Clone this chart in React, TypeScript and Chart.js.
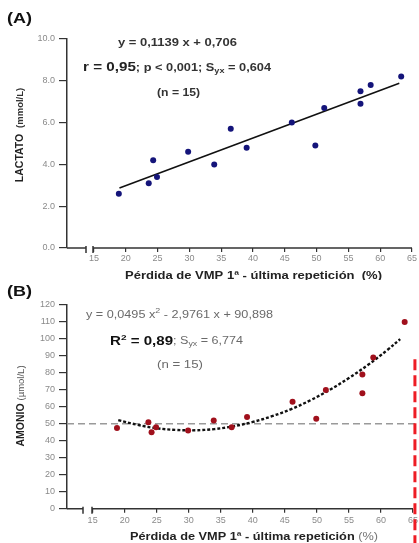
import { useEffect, useRef } from 'react';
import { Chart, registerables } from 'chart.js';
Chart.register(...registerables);

// ---- data ----
const LAC_LOSS = [18.9, 23.6, 24.3, 24.9, 29.8, 33.9, 36.5, 39.0, 46.1, 49.8, 51.2, 56.9, 56.9, 58.5, 63.3];
const LAC_VALUES = [2.6, 3.1, 4.2, 3.4, 4.6, 4.0, 5.7, 4.8, 6.0, 4.9, 6.7, 6.9, 7.5, 7.8, 8.2];
const LAC_FIT_X = [19, 63];
const LAC_FIT_Y = [2.87, 7.88];

const AMO_LOSS = [18.8, 23.7, 24.2, 24.9, 29.9, 33.9, 36.7, 39.1, 46.2, 49.9, 51.4, 57.1, 57.1, 58.8, 63.7];
const AMO_VALUES = [47.5, 51, 45, 48, 46, 52, 48, 54, 63, 53, 70, 68, 79, 89, 110];
const AMO_FIT_X = [19, 22, 25, 28, 31, 34, 37, 40, 43, 46, 49, 52, 55, 58, 61, 63];
const AMO_FIT_Y = [52.2, 49.4, 47.4, 46.4, 46.2, 46.9, 48.6, 51.1, 54.5, 58.7, 63.9, 70.0, 77.0, 84.8, 93.5, 99.9];
const AMO_REF_Y = 50;
const AMO_CUTOFF_X = 65.3;
const AMO_CUTOFF_TOP = 88;

const X_TICKS = [15, 20, 25, 30, 35, 40, 45, 50, 55, 60, 65];
const LAC_TICKS = [0, 2, 4, 6, 8, 10];
const AMO_TICKS = [0, 10, 20, 30, 40, 50, 60, 70, 80, 90, 100, 110, 120];

const F = '"Liberation Sans", Arial, sans-serif';
const W = 419;

type Run = { t: string; font: string; color: string; dy?: number };

function drawRuns(
  ctx: CanvasRenderingContext2D,
  x: number,
  y: number,
  runs: Run[],
  align: 'left' | 'center' = 'left',
  targetW?: number
) {
  let total = 0;
  for (const r of runs) {
    ctx.font = r.font;
    total += ctx.measureText(r.t).width;
  }
  const sx = targetW ? targetW / total : 1;
  const start = align === 'center' ? x - (total * sx) / 2 : x;
  ctx.save();
  ctx.translate(start, y);
  ctx.scale(sx, 1);
  ctx.textBaseline = 'middle';
  ctx.textAlign = 'left';
  let cx = 0;
  for (const r of runs) {
    ctx.font = r.font;
    ctx.fillStyle = r.color;
    ctx.fillText(r.t, cx, r.dy || 0);
    cx += ctx.measureText(r.t).width;
  }
  ctx.restore();
}

function drawRotated(ctx: CanvasRenderingContext2D, x: number, y: number, runs: Run[]) {
  ctx.save();
  ctx.translate(x, y);
  ctx.rotate(-Math.PI / 2);
  drawRuns(ctx, 0, 0, runs, 'center');
  ctx.restore();
}

function brokenXAxis(chart: any, gapA: number, gapB: number) {
  const ctx = chart.ctx as CanvasRenderingContext2D;
  const { left, right, bottom } = chart.chartArea;
  ctx.save();
  ctx.strokeStyle = '#333';
  ctx.lineWidth = 1.5;
  ctx.beginPath();
  ctx.moveTo(left, bottom);
  ctx.lineTo(gapA, bottom);
  ctx.moveTo(gapA, bottom - 2);
  ctx.lineTo(gapA, bottom + 5);
  ctx.moveTo(gapB, bottom - 2);
  ctx.lineTo(gapB, bottom + 5);
  ctx.moveTo(gapB, bottom);
  ctx.lineTo(right, bottom);
  ctx.stroke();
  ctx.restore();
}

type PanelProps = {
  height: number;
  top: number;
  build: (canvas: HTMLCanvasElement) => Chart;
};

function Panel({ height, top, build }: PanelProps) {
  const ref = useRef<HTMLCanvasElement>(null);
  useEffect(() => {
    const c = build(ref.current!);
    return () => c.destroy();
  }, []);
  return (
    <canvas
      ref={ref}
      width={W}
      height={height}
      style={{ position: 'absolute', left: 0, top, width: W, height, display: 'block' }}
    />
  );
}

const tickFont = { family: F, size: 9 };

function buildA(canvas: HTMLCanvasElement) {
  const H = 280;
  const plugin = {
    id: 'annA',
    afterDraw(chart: any) {
      const ctx = chart.ctx as CanvasRenderingContext2D;
      brokenXAxis(chart, 86, 93);
      drawRuns(ctx, 7, 19, [{ t: '(A)', font: `bold 14px ${F}`, color: '#111' }], 'left', 25);
      drawRuns(ctx, 118, 43, [{ t: 'y = 0,1139 x + 0,706', font: `bold 10.5px ${F}`, color: '#333' }], 'left', 119);
      drawRuns(ctx, 83, 68, [
        { t: 'r = 0,95', font: `bold 12.5px ${F}`, color: '#222' },
        { t: '; p < 0,001; S', font: `bold 10.5px ${F}`, color: '#333' },
        { t: 'yx', font: `bold 7.5px ${F}`, color: '#333', dy: 3 },
        { t: ' = 0,604', font: `bold 10.5px ${F}`, color: '#333' },
      ], 'left', 188);
      drawRuns(ctx, 157, 93, [{ t: '(n = 15)', font: `bold 10px ${F}`, color: '#333' }], 'left', 43);
      drawRotated(ctx, 20, 135, [
        { t: 'LACTATO  ', font: `bold 10.5px ${F}`, color: '#222' },
        { t: '(mmol/L)', font: `bold 9.5px ${F}`, color: '#333' },
      ]);
      drawRuns(ctx, 253.5, 276.5, [
        { t: 'Pérdida de VMP 1ª - última repetición  (%)', font: `bold 10.5px ${F}`, color: '#222' },
      ], 'center', 257);
    },
  };
  return new Chart(canvas, {
    type: 'scatter',
    data: {
      datasets: [
        {
          data: LAC_LOSS.map((x, i) => ({ x, y: LAC_VALUES[i] })),
          pointRadius: 3,
          pointBackgroundColor: '#14147a',
          pointBorderWidth: 0,
          showLine: false,
        },
        {
          data: LAC_FIT_X.map((x, i) => ({ x, y: LAC_FIT_Y[i] })),
          showLine: true,
          pointRadius: 0,
          borderColor: '#111',
          borderWidth: 1.6,
        },
      ],
    },
    options: {
      animation: false,
      responsive: false,
      layout: { padding: { top: 39, right: 7, left: 0, bottom: 0 } },
      plugins: { legend: { display: false }, tooltip: { enabled: false } },
      scales: {
        x: {
          type: 'linear',
          min: 10.75,
          max: 65,
          afterBuildTicks: (s: any) => { s.ticks = X_TICKS.map((v) => ({ value: v })); },
          afterFit: (s: any) => { s.height = H - 248; s.paddingLeft = 0; s.paddingRight = 0; },
          grid: { display: true, drawOnChartArea: false, drawTicks: true, tickLength: 4, color: '#333', lineWidth: 1.2 },
          border: { display: false },
          ticks: { color: '#8a8a8a', font: tickFont, padding: 1, maxRotation: 0 },
        },
        y: {
          type: 'linear',
          min: 0,
          max: 10,
          afterBuildTicks: (s: any) => { s.ticks = LAC_TICKS.map((v) => ({ value: v })); },
          afterFit: (s: any) => { s.width = 67; },
          grid: { display: true, drawOnChartArea: false, drawTicks: true, tickLength: 8, color: '#333', lineWidth: 1.2 },
          border: { display: true, color: '#333', width: 1.5 },
          ticks: { color: '#8a8a8a', font: tickFont, padding: 4, callback: (v: any) => Number(v).toFixed(1) },
        },
      },
    } as any,
    plugins: [plugin],
  });
}

function buildB(canvas: HTMLCanvasElement) {
  const H = 263;
  const plugin = {
    id: 'annB',
    beforeDatasetsDraw(chart: any) {
      const ctx = chart.ctx as CanvasRenderingContext2D;
      const y = chart.scales.y.getPixelForValue(AMO_REF_Y);
      ctx.save();
      ctx.strokeStyle = '#9a9a9a';
      ctx.lineWidth = 1.5;
      ctx.setLineDash([7, 4]);
      ctx.beginPath();
      ctx.moveTo(chart.chartArea.left, y);
      ctx.lineTo(W, y);
      ctx.stroke();
      ctx.restore();
    },
    afterDraw(chart: any) {
      const ctx = chart.ctx as CanvasRenderingContext2D;
      brokenXAxis(chart, 83, 92);
      const rx = chart.scales.x.getPixelForValue(AMO_CUTOFF_X);
      const ry = chart.scales.y.getPixelForValue(AMO_CUTOFF_TOP);
      ctx.save();
      ctx.strokeStyle = '#ee1c24';
      ctx.lineWidth = 3;
      ctx.setLineDash([11, 5]);
      ctx.beginPath();
      ctx.moveTo(rx, ry);
      ctx.lineTo(rx, H);
      ctx.stroke();
      ctx.restore();

      drawRuns(ctx, 7, 12, [{ t: '(B)', font: `bold 14px ${F}`, color: '#111' }], 'left', 25);
      drawRuns(ctx, 86, 35, [
        { t: 'y = 0,0495 x', font: `10px ${F}`, color: '#6a6a6a' },
        { t: '2', font: `7px ${F}`, color: '#6a6a6a', dy: -4 },
        { t: ' - 2,9761 x + 90,898', font: `10px ${F}`, color: '#6a6a6a' },
      ], 'left', 187);
      drawRuns(ctx, 110, 61.5, [
        { t: 'R', font: `bold 12px ${F}`, color: '#111' },
        { t: '2', font: `bold 8px ${F}`, color: '#111', dy: -4 },
        { t: ' = 0,89', font: `bold 12px ${F}`, color: '#111' },
        { t: '; S', font: `10px ${F}`, color: '#6a6a6a' },
        { t: 'yx', font: `7px ${F}`, color: '#6a6a6a', dy: 3 },
        { t: ' = 6,774', font: `10px ${F}`, color: '#6a6a6a' },
      ], 'left', 133);
      drawRuns(ctx, 157, 85, [{ t: '(n = 15)', font: `10px ${F}`, color: '#6a6a6a' }], 'left', 46);
      drawRotated(ctx, 21, 126, [
        { t: 'AMONIO ', font: `bold 10.5px ${F}`, color: '#222' },
        { t: '(µmol/L)', font: `9.5px ${F}`, color: '#555' },
      ]);
      drawRuns(ctx, 254, 257.5, [
        { t: 'Pérdida de VMP 1ª - última repetición ', font: `bold 10.5px ${F}`, color: '#222' },
        { t: '(%)', font: `10.5px ${F}`, color: '#777' },
      ], 'center', 248);
    },
  };
  return new Chart(canvas, {
    type: 'scatter',
    data: {
      datasets: [
        {
          data: AMO_LOSS.map((x, i) => ({ x, y: AMO_VALUES[i] })),
          pointRadius: 3,
          pointBackgroundColor: '#a0101c',
          pointBorderWidth: 0,
          showLine: false,
        },
        {
          data: AMO_FIT_X.map((x, i) => ({ x, y: AMO_FIT_Y[i] })),
          showLine: true,
          pointRadius: 0,
          borderColor: '#111',
          borderWidth: 2.4,
          borderDash: [3, 2],
          tension: 0.4,
        },
      ],
    },
    options: {
      animation: false,
      responsive: false,
      layout: { padding: { top: 25, right: 6, left: 0, bottom: 0 } },
      plugins: { legend: { display: false }, tooltip: { enabled: false } },
      scales: {
        x: {
          type: 'linear',
          min: 11.0,
          max: 65,
          afterBuildTicks: (s: any) => { s.ticks = X_TICKS.map((v) => ({ value: v })); },
          afterFit: (s: any) => { s.height = H - 228.7; s.paddingLeft = 0; s.paddingRight = 0; },
          grid: { display: true, drawOnChartArea: false, drawTicks: true, tickLength: 4, color: '#333', lineWidth: 1.2 },
          border: { display: false },
          ticks: { color: '#8a8a8a', font: tickFont, padding: 2, maxRotation: 0 },
        },
        y: {
          type: 'linear',
          min: 0,
          max: 120,
          afterBuildTicks: (s: any) => { s.ticks = AMO_TICKS.map((v) => ({ value: v })); },
          afterFit: (s: any) => { s.width = 67; },
          grid: { display: true, drawOnChartArea: false, drawTicks: true, tickLength: 8, color: '#333', lineWidth: 1.2 },
          border: { display: true, color: '#333', width: 1.5 },
          ticks: { color: '#8a8a8a', font: tickFont, padding: 4 },
        },
      },
    } as any,
    plugins: [plugin],
  });
}

export default function App() {
  return (
    <div style={{ position: 'absolute', left: 0, top: 0, width: W, height: 543, background: '#fff', overflow: 'hidden' }}>
      <Panel height={280} top={0} build={buildA} />
      <Panel height={263} top={280} build={buildB} />
    </div>
  );
}
